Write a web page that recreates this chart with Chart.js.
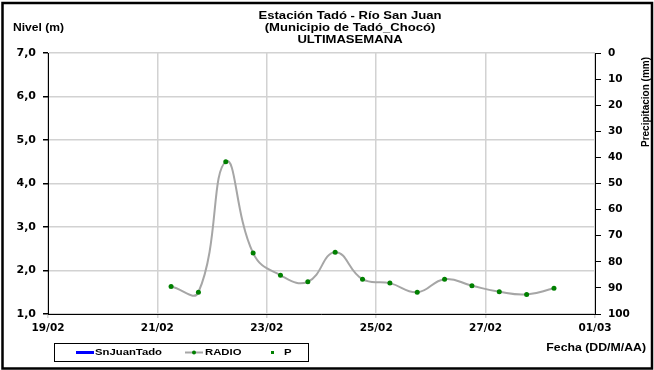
<!DOCTYPE html>
<html>
<head>
<meta charset="utf-8">
<script src="https://cdn.jsdelivr.net/npm/chart.js@4/dist/chart.umd.min.js"></script>
<style>
  html, body { margin: 0; padding: 0; background: #fff; }
  #wrap { width: 654px; height: 370px; }
</style>
</head>
<body>
<div id="wrap"><canvas id="c" width="654" height="370"></canvas></div>
<script>
// ---- Data ----
const titleLines = ['Estación Tadó - Río San Juan', '(Municipio de Tadó_Chocó)', 'ULTIMASEMANA'];
const leftAxisTitle = 'Nivel (m)';
const rightAxisTitle = 'Precipitacion (mm)';
const xAxisTitle = 'Fecha (DD/M/AA)';
const xTickLabels = ['19/02', '21/02', '23/02', '25/02', '27/02', '01/03'];
const seriesNames = ['SnJuanTado', 'RADIO', 'P'];
const radioTimes = ['21/02 06:00', '21/02 18:00', '22/02 06:00', '22/02 18:00', '23/02 06:00',
                    '23/02 18:00', '24/02 06:00', '24/02 18:00', '25/02 06:00', '25/02 18:00',
                    '26/02 06:00', '26/02 18:00', '27/02 06:00', '27/02 18:00', '28/02 06:00'];
const radioLevels = [1.63, 1.50, 4.50, 2.40, 1.89, 1.74, 2.42, 1.80, 1.71, 1.50, 1.80, 1.65, 1.51, 1.45, 1.59];
const snJuanTadoLevels = [];
const precipitation = [];

// ---- helpers ----
const YEAR = 2023;
const BASE = Date.UTC(YEAR, 1, 19);
function toDays(s) {
  const [dm, hm] = s.split(' ');
  const [d, m] = dm.split('/').map(Number);
  const [h, mi] = (hm || '00:00').split(':').map(Number);
  return (Date.UTC(YEAR, m - 1, d, h, mi) - BASE) / 86400000;
}
const xTickValues = xTickLabels.map(l => toDays(l));
const radioPoints = radioTimes.map((t, i) => ({ x: toDays(t), y: radioLevels[i] }));

const FONT = '"Liberation Sans", Arial, sans-serif';
const TICKFONT = '"DejaVu Sans", sans-serif';

function stretchedText(ctx, text, x, y, size, align, sx) {
  ctx.save();
  ctx.font = 'bold ' + size + 'px ' + FONT;
  ctx.textBaseline = 'middle';
  ctx.fillStyle = '#000';
  const w = ctx.measureText(text).width * sx;
  let left = x;
  if (align === 'center') left = x - w / 2;
  else if (align === 'right') left = x - w;
  ctx.translate(left, y);
  ctx.scale(sx, 1);
  ctx.textAlign = 'left';
  ctx.fillText(text, 0, 0);
  ctx.restore();
}

const decorations = {
  id: 'decorations',
  afterDraw(chart) {
    const ctx = chart.ctx;
    // titles
    stretchedText(ctx, titleLines[0], 350, 16, 11, 'center', 1.19);
    stretchedText(ctx, titleLines[1], 350, 28, 11, 'center', 1.19);
    stretchedText(ctx, titleLines[2], 350, 40, 11, 'center', 1.19);
    stretchedText(ctx, leftAxisTitle, 13, 27.5, 11, 'left', 1.1);
    stretchedText(ctx, xAxisTitle, 646, 348, 10.5, 'right', 1.17);
    // rotated right title
    ctx.save();
    ctx.translate(646, 102);
    ctx.rotate(-Math.PI / 2);
    ctx.font = 'bold 10px ' + FONT;
    ctx.textAlign = 'center';
    ctx.textBaseline = 'middle';
    ctx.fillStyle = '#000';
    ctx.fillText(rightAxisTitle, 0, 0);
    ctx.restore();

    // legend box
    const ds = chart.data.datasets;
    ctx.save();
    ctx.strokeStyle = '#000';
    ctx.lineWidth = 1;
    ctx.strokeRect(54.5, 343.5, 254, 18);
    const ly = 352.5;
    // SnJuanTado
    ctx.strokeStyle = ds[0].borderColor;
    ctx.lineWidth = 3;
    ctx.beginPath(); ctx.moveTo(76, ly); ctx.lineTo(94, ly); ctx.stroke();
    stretchedText(ctx, ds[0].label, 95, ly, 9.5, 'left', 1.19);
    // RADIO
    ctx.strokeStyle = ds[1].borderColor;
    ctx.lineWidth = 2;
    ctx.beginPath(); ctx.moveTo(185, ly); ctx.lineTo(203, ly); ctx.stroke();
    ctx.fillStyle = ds[1].pointBackgroundColor;
    ctx.beginPath(); ctx.arc(194, ly, 2, 0, Math.PI * 2); ctx.fill();
    stretchedText(ctx, ds[1].label, 205, ly, 9.5, 'left', 1.19);
    // P
    ctx.fillStyle = ds[2].pointBackgroundColor;
    ctx.fillRect(271, ly - 1.5, 3, 3);
    stretchedText(ctx, ds[2].label, 284, ly, 9.5, 'left', 1.19);
    // outer frame
    ctx.strokeStyle = '#000';
    ctx.lineWidth = 2.5;
    ctx.strokeRect(2.5, 3, 649.5, 365.5);
    ctx.restore();
  }
};

const gridGray = '#d2d2d2';

new Chart(document.getElementById('c'), {
  type: 'line',
  data: {
    datasets: [
      {
        label: seriesNames[0],
        data: snJuanTadoLevels,
        borderColor: '#0000ff',
        borderWidth: 3,
        pointRadius: 0,
        yAxisID: 'y'
      },
      {
        label: seriesNames[1],
        data: radioPoints,
        borderColor: '#a6a6a6',
        borderWidth: 2,
        tension: 0.45,
        pointRadius: 2.5,
        pointBorderWidth: 0,
        pointBackgroundColor: '#008000',
        pointBorderColor: '#008000',
        yAxisID: 'y'
      },
      {
        label: seriesNames[2],
        data: precipitation,
        showLine: false,
        borderColor: '#008000',
        pointRadius: 1.5,
        pointBackgroundColor: '#008000',
        yAxisID: 'y2'
      }
    ]
  },
  options: {
    responsive: false,
    animation: false,
    devicePixelRatio: 1,
    layout: { padding: { top: 53, left: 0, right: 0, bottom: 0 } },
    plugins: {
      legend: { display: false },
      title: { display: false },
      tooltip: { enabled: false }
    },
    scales: {
      x: {
        type: 'linear',
        min: xTickValues[0],
        max: xTickValues[xTickValues.length - 1],
        afterBuildTicks(axis) { axis.ticks = xTickValues.map(v => ({ value: v })); },
        afterFit(axis) { axis.height = 56; },
        ticks: {
          autoSkip: false,
          maxRotation: 0,
          padding: 4,
          color: '#000',
          font: { family: TICKFONT, weight: 'bold', size: 10.5 },
          callback(v) { const i = xTickValues.indexOf(v); return i >= 0 ? xTickLabels[i] : ''; }
        },
        grid: { color: gridGray, lineWidth: 1.5, tickLength: 4, tickColor: gridGray },
        border: { display: true, color: '#000', width: 1 }
      },
      y: {
        position: 'left',
        min: 1,
        max: 7,
        afterFit(axis) { axis.width = 48; },
        ticks: {
          stepSize: 1,
          padding: 7,
          color: '#000',
          font: { family: TICKFONT, weight: 'bold', size: 11 },
          callback(v) { return v.toFixed(1).replace('.', ','); }
        },
        grid: { color: gridGray, lineWidth: 1.5, tickLength: 5, tickColor: '#000' },
        border: { display: true, color: '#000', width: 1 }
      },
      y2: {
        position: 'right',
        min: 0,
        max: 100,
        reverse: true,
        afterFit(axis) { axis.width = 59; },
        ticks: {
          stepSize: 10,
          padding: 7,
          color: '#000',
          font: { family: TICKFONT, weight: 'bold', size: 10.5 }
        },
        grid: { drawOnChartArea: false, tickLength: 6, tickColor: '#000' },
        border: { display: true, color: '#000', width: 1 }
      }
    }
  },
  plugins: [decorations]
});
</script>
</body>
</html>
